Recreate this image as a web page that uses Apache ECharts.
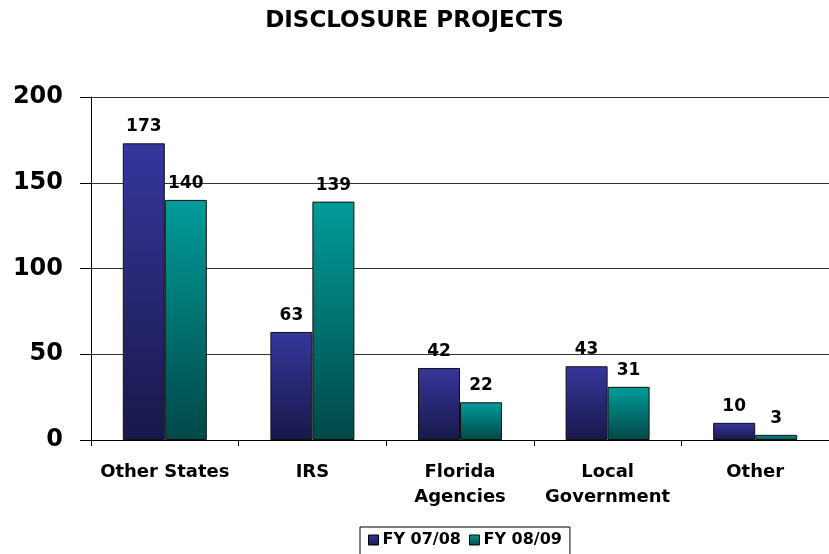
<!DOCTYPE html>
<html>
<head>
<meta charset="utf-8">
<style>
  html, body { margin: 0; padding: 0; background: #fff; }
  #chart { width: 829px; height: 554px; }
</style>
<script src="https://cdn.jsdelivr.net/npm/echarts@6/dist/echarts.min.js"></script>
</head>
<body>
<div id="chart"></div>
<script>
// Disclosure projects by requesting party, two fiscal years
var categories = ['Other States', 'IRS', 'Florida\nAgencies', 'Local\nGovernment', 'Other'];
var fy0708 = [173, 63, 42, 43, 10];
var fy0809 = [140, 139, 22, 31, 3];
var yTicks = [0, 50, 100, 150, 200];

var FONT = '"DejaVu Sans", "Liberation Sans", Arial, sans-serif';

function grad(top, bottom) {
  return new echarts.graphic.LinearGradient(0, 0, 0, 1, [
    { offset: 0, color: top },
    { offset: 1, color: bottom }
  ]);
}

var chart = echarts.init(document.getElementById('chart'), null, { renderer: 'canvas' });

var labelStyle = {
  show: true,
  position: 'top',
  distance: 8,
  color: '#000',
  fontFamily: FONT,
  fontWeight: 'bold',
  fontSize: 17
};

chart.setOption({
  backgroundColor: '#ffffff',
  animation: false,
  title: {
    text: 'DISCLOSURE PROJECTS',
    left: 'center',
    top: 5,
    textStyle: { fontFamily: FONT, fontWeight: 'bold', fontSize: 23, color: '#000' }
  },
  legend: {
    top: 527,
    left: 360,
    icon: 'rect',
    itemWidth: 10,
    itemHeight: 10,
    itemGap: 8,
    padding: [5, 8, 10, 8],
    borderColor: '#000',
    borderWidth: 1,
    itemStyle: { borderColor: '#000', borderWidth: 1 },
    textStyle: { fontFamily: FONT, fontWeight: 'bold', fontSize: 16, color: '#000', padding: [0, 0, 0, -1] },
    data: ['FY 07/08', 'FY 08/09']
  },
  grid: { left: 91, right: 0, top: 97, bottom: 114 },
  xAxis: {
    type: 'category',
    data: categories,
    axisLine: { lineStyle: { color: '#000', width: 1 } },
    axisTick: { show: true, length: 6, interval: 0, lineStyle: { color: '#000' } },
    axisLabel: {
      interval: 0,
      fontFamily: FONT, fontWeight: 'bold', fontSize: 18, color: '#000',
      margin: 20, lineHeight: 25
    }
  },
  yAxis: {
    type: 'value',
    min: 0,
    max: yTicks[yTicks.length - 1],
    interval: yTicks[1] - yTicks[0],
    axisLine: { show: true, lineStyle: { color: '#000', width: 1 } },
    axisTick: { show: true, length: 11, lineStyle: { color: '#000' } },
    splitLine: { lineStyle: { color: '#333', width: 1 } },
    axisLabel: {
      fontFamily: FONT, fontWeight: 'bold', fontSize: 24, color: '#000', margin: 28
    }
  },
  series: [
    {
      name: 'FY 07/08',
      type: 'bar',
      data: fy0708,
      barWidth: 42,
      barGap: '0%',
      itemStyle: { color: grad('#36369c', '#18184a'), borderColor: '#111', borderWidth: 1 },
      label: labelStyle
    },
    {
      name: 'FY 08/09',
      type: 'bar',
      data: fy0809,
      barWidth: 42,
      itemStyle: { color: grad('#009c99', '#004848'), borderColor: '#111', borderWidth: 1 },
      label: labelStyle
    }
  ]
});
</script>
</body>
</html>
